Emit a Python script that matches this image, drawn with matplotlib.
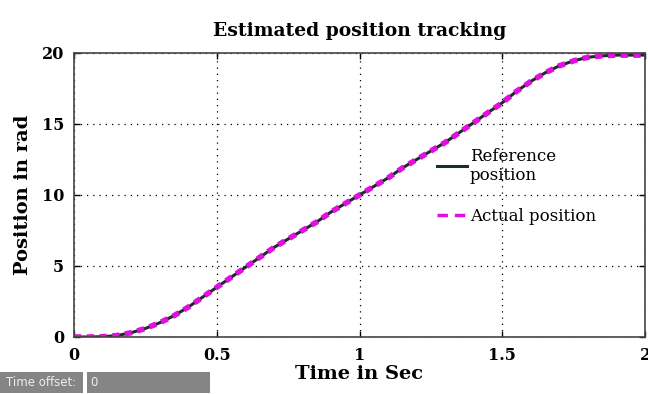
import numpy as np
import matplotlib

matplotlib.use('Agg')

import matplotlib.pyplot as plt
from matplotlib.lines import Line2D
from matplotlib.patches import Rectangle

# sampled trajectory (sec, rad)
time_s = [0.00, 0.05, 0.10, 0.15, 0.20, 0.25, 0.30, 0.35, 0.40, 0.45,
          0.50, 0.55, 0.60, 0.65, 0.70, 0.75, 0.80, 0.85, 0.90, 0.95,
          1.00, 1.05, 1.10, 1.15, 1.20, 1.25, 1.30, 1.35, 1.40, 1.45,
          1.50, 1.55, 1.60, 1.65, 1.70, 1.75, 1.80, 1.85, 1.90, 1.95, 2.00]
ref_pos = [0.00, 0.00, 0.02, 0.10, 0.30, 0.60, 1.00, 1.50, 2.10, 2.80,
           3.50, 4.20, 4.90, 5.60, 6.30, 6.90, 7.50, 8.10, 8.80, 9.40,
           10.00, 10.60, 11.20, 11.90, 12.50, 13.10, 13.70, 14.40, 15.10, 15.80,
           16.50, 17.30, 18.00, 18.60, 19.10, 19.45, 19.70, 19.80, 19.85, 19.85, 19.85]
act_pos = list(ref_pos)

x_ticks = [0, 0.5, 1, 1.5, 2]
x_labels = ['0', '0.5', '1', '1.5', '2']
y_ticks = [0, 5, 10, 15, 20]

serif = 'DejaVu Serif'
ref_color = '#1c2e26'
act_color = '#e010e0'

fig = plt.figure(figsize=(6.48, 3.94), dpi=100)
ax = fig.add_axes([0.1142, 0.1447, 0.8812, 0.7208])

ax.plot(time_s, ref_pos, '-', color=ref_color, lw=2.2)
ax.plot(time_s, act_pos, color=act_color, lw=4.0, linestyle=(0, (1.3, 1.0)))

ax.set_xlim(0, 2)
ax.set_ylim(0, 20)
ax.set_xticks(x_ticks)
ax.set_xticklabels(x_labels)
ax.set_yticks(y_ticks)
ax.tick_params(direction='in', top=True, right=True, length=4, width=1,
               labelsize=11.5, pad=7)
for lab in ax.get_xticklabels() + ax.get_yticklabels():
    lab.set_fontfamily(serif)
    lab.set_fontweight('bold')

ax.grid(True, linestyle=(0, (1, 4)), color='black', lw=0.9)
for sp in ax.spines.values():
    sp.set_color('#444444')
    sp.set_linewidth(1.2)

ax.set_title('Estimated position tracking', fontsize=13.5, fontweight='bold',
             family=serif, pad=12)
ax.set_xlabel('Time in Sec', fontsize=14, fontweight='bold', family=serif,
              labelpad=1)
ax.set_ylabel('Position in rad', fontsize=14, fontweight='bold', family=serif,
              labelpad=7)

# legend proxies so the dash pattern reads clearly
handles = [Line2D([], [], color=ref_color, lw=2.2),
           Line2D([], [], color=act_color, lw=2.5, linestyle=(0, (3, 2)))]
leg = ax.legend(handles, ['Reference\nposition', 'Actual position'],
                loc='upper left', bbox_to_anchor=(0.61, 0.72), frameon=False,
                prop={'family': serif, 'size': 12}, handlelength=1.8,
                handletextpad=0.15, labelspacing=1.45)

# time offset strip at the bottom
fig.patches.append(Rectangle((0.0, 0.003), 0.128, 0.053, transform=fig.transFigure,
                             facecolor='#858585', edgecolor='none'))
fig.patches.append(Rectangle((0.134, 0.003), 0.190, 0.053, transform=fig.transFigure,
                             facecolor='#858585', edgecolor='none'))
fig.text(0.010, 0.029, 'Time offset:', color='#eeeeee', fontsize=8.5,
         family=['Liberation Sans Narrow', 'DejaVu Sans'], va='center')
fig.text(0.140, 0.029, '0', color='#eeeeee', fontsize=8.5,
         family=['Liberation Sans Narrow', 'DejaVu Sans'], va='center')

fig.savefig('out.png', dpi=100)
